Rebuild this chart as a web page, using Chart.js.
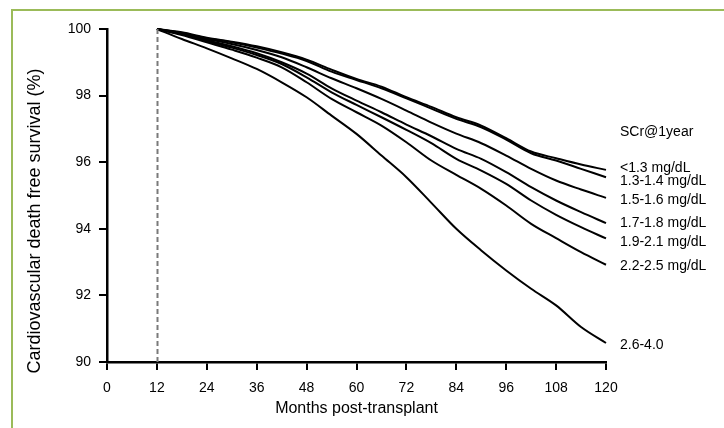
<!DOCTYPE html>
<html>
<head>
<meta charset="utf-8">
<title>Cardiovascular death free survival by SCr at 1 year</title>
<script src="https://cdn.jsdelivr.net/npm/chart.js@4.4.1/dist/chart.umd.min.js"></script>
<style>
    html, body { margin: 0; padding: 0; background: #fff; }
    #wrap { position: relative; width: 724px; height: 428px; overflow: hidden; }
    #frame { position: absolute; left: 11px; top: 9px; width: 800px; height: 500px;
             border-left: 2px solid #9bbb59; border-top: 2px solid #9bbb59; }
    canvas { position: absolute; left: 0; top: 0; }
</style>
</head>
<body>
<div id="wrap">
    <div id="frame"></div>
    <canvas id="survChart" width="724" height="428"></canvas>
</div>
<script>
// Follow-up months (curves start at 12 months post-transplant)
const months = [12, 18, 24, 30, 36, 42, 48, 54, 60, 66, 72, 78, 84, 90, 96, 102, 108, 114, 120];

// Group labels (serum creatinine at 1 year)
const groupLabels = ['<1.3 mg/dL', '1.3-1.4 mg/dL', '1.5-1.6 mg/dL', '1.7-1.8 mg/dL',
                     '1.9-2.1 mg/dL', '2.2-2.5 mg/dL', '2.6-4.0'];
const legendTitle = 'SCr@1year';

// Survival (%)
const survLt13   = [100, 99.90, 99.74, 99.62, 99.48, 99.30, 99.08, 98.78, 98.50, 98.27, 97.95, 97.66, 97.35, 97.10, 96.72, 96.32, 96.12, 95.93, 95.77];
const surv13_14  = [100, 99.88, 99.72, 99.60, 99.44, 99.26, 99.04, 98.72, 98.47, 98.22, 97.92, 97.61, 97.30, 97.05, 96.68, 96.27, 96.05, 95.80, 95.55];
const surv15_16  = [100, 99.87, 99.70, 99.55, 99.37, 99.15, 98.85, 98.52, 98.22, 97.90, 97.55, 97.19, 96.86, 96.57, 96.20, 95.80, 95.45, 95.18, 94.93];
const surv17_18  = [100, 99.85, 99.66, 99.48, 99.27, 99.00, 98.66, 98.22, 97.85, 97.50, 97.13, 96.78, 96.40, 96.10, 95.70, 95.25, 94.85, 94.50, 94.17];
const surv19_21  = [100, 99.84, 99.63, 99.44, 99.22, 98.95, 98.55, 98.10, 97.72, 97.35, 96.97, 96.57, 96.10, 95.75, 95.35, 94.85, 94.42, 94.05, 93.71];
const surv22_25  = [100, 99.82, 99.60, 99.38, 99.14, 98.85, 98.40, 97.90, 97.50, 97.10, 96.60, 96.05, 95.62, 95.20, 94.70, 94.15, 93.72, 93.30, 92.92];
const surv26_40  = [100, 99.70, 99.42, 99.12, 98.80, 98.40, 97.95, 97.40, 96.85, 96.20, 95.55, 94.78, 94.00, 93.35, 92.75, 92.20, 91.70, 91.05, 90.57];

// Axis ticks
const xTicks = [0, 12, 24, 36, 48, 60, 72, 84, 96, 108, 120];
const yTicks = [90, 92, 94, 96, 98, 100];
const landmarkMonth = 12;

const FONT = '"Liberation Sans", Arial, sans-serif';
const allSeries = [survLt13, surv13_14, surv15_16, surv17_18, surv19_21, surv22_25, surv26_40];
// small vertical nudges (px) so the end labels don't collide
const labelNudge = [-2, 4, 2.5, 0, 4, 1.5, 2.5];

// Dashed vertical line at the 12 month landmark
const landmarkLine = {
    id: 'landmarkLine',
    afterDatasetsDraw(chart) {
        const {ctx, chartArea, scales: {x}} = chart;
        const px = Math.round(x.getPixelForValue(landmarkMonth)) + 0.5;
        ctx.save();
        ctx.strokeStyle = '#7a7a7a';
        ctx.lineWidth = 2;
        ctx.setLineDash([5, 3]);
        ctx.beginPath();
        ctx.moveTo(px, chartArea.top);
        ctx.lineTo(px, chartArea.bottom);
        ctx.stroke();
        ctx.restore();
    }
};

// Labels at the right end of each curve + y axis title
const endLabels = {
    id: 'endLabels',
    afterDraw(chart) {
        const {ctx, chartArea, scales: {y}} = chart;
        const lx = chartArea.right + 14;
        ctx.save();
        ctx.fillStyle = '#000';
        ctx.font = '14px ' + FONT;
        ctx.textAlign = 'left';
        ctx.textBaseline = 'middle';
        chart.data.datasets.forEach((ds, i) => {
            const last = ds.data[ds.data.length - 1].y;
            ctx.fillText(ds.label, lx, y.getPixelForValue(last) + labelNudge[i]);
        });
        const topY = y.getPixelForValue(chart.data.datasets[0].data.slice(-1)[0].y);
        ctx.fillText(legendTitle, lx, topY - 38);

        // y axis title
        ctx.font = '18px ' + FONT;
        ctx.textAlign = 'center';
        ctx.translate(35, 221);
        ctx.rotate(-Math.PI / 2);
        ctx.fillText('Cardiovascular death free survival (%)', 0, 0);
        ctx.restore();
    }
};

const datasets = allSeries.map((vals, i) => ({
    label: groupLabels[i],
    data: months.map((m, j) => ({x: m, y: vals[j]})),
    borderColor: '#000',
    borderWidth: 2,
    pointRadius: 0,
    cubicInterpolationMode: 'monotone',
    fill: false,
    clip: 4
}));

new Chart(document.getElementById('survChart').getContext('2d'), {
    type: 'line',
    data: {datasets},
    options: {
        responsive: false,
        animation: false,
        layout: {padding: {left: 12, top: 29, right: 118, bottom: 0}},
        plugins: {legend: {display: false}, tooltip: {enabled: false}},
        scales: {
            x: {
                type: 'linear',
                min: 0,
                max: 120,
                afterBuildTicks: axis => { axis.ticks = xTicks.map(v => ({value: v})); },
                afterFit: axis => { axis.height = 66; },
                border: {display: true, color: '#000', width: 2.5},
                grid: {drawOnChartArea: false, drawTicks: true, tickLength: 8, color: '#000', lineWidth: 2},
                ticks: {color: '#000', padding: 10, maxRotation: 0, font: {family: FONT, size: 14}},
                title: {display: true, text: 'Months post-transplant', color: '#000',
                        font: {family: FONT, size: 16}, padding: {top: 0, bottom: 10}}
            },
            y: {
                min: 90,
                max: 100,
                afterBuildTicks: axis => { axis.ticks = yTicks.map(v => ({value: v})); },
                afterFit: axis => { axis.width = 95; },
                border: {display: true, color: '#000', width: 2.5},
                grid: {drawOnChartArea: false, drawTicks: true, tickLength: 8, color: '#000', lineWidth: 2},
                ticks: {color: '#000', padding: 8, font: {family: FONT, size: 14}}
            }
        }
    },
    plugins: [landmarkLine, endLabels]
});
</script>
</body>
</html>
